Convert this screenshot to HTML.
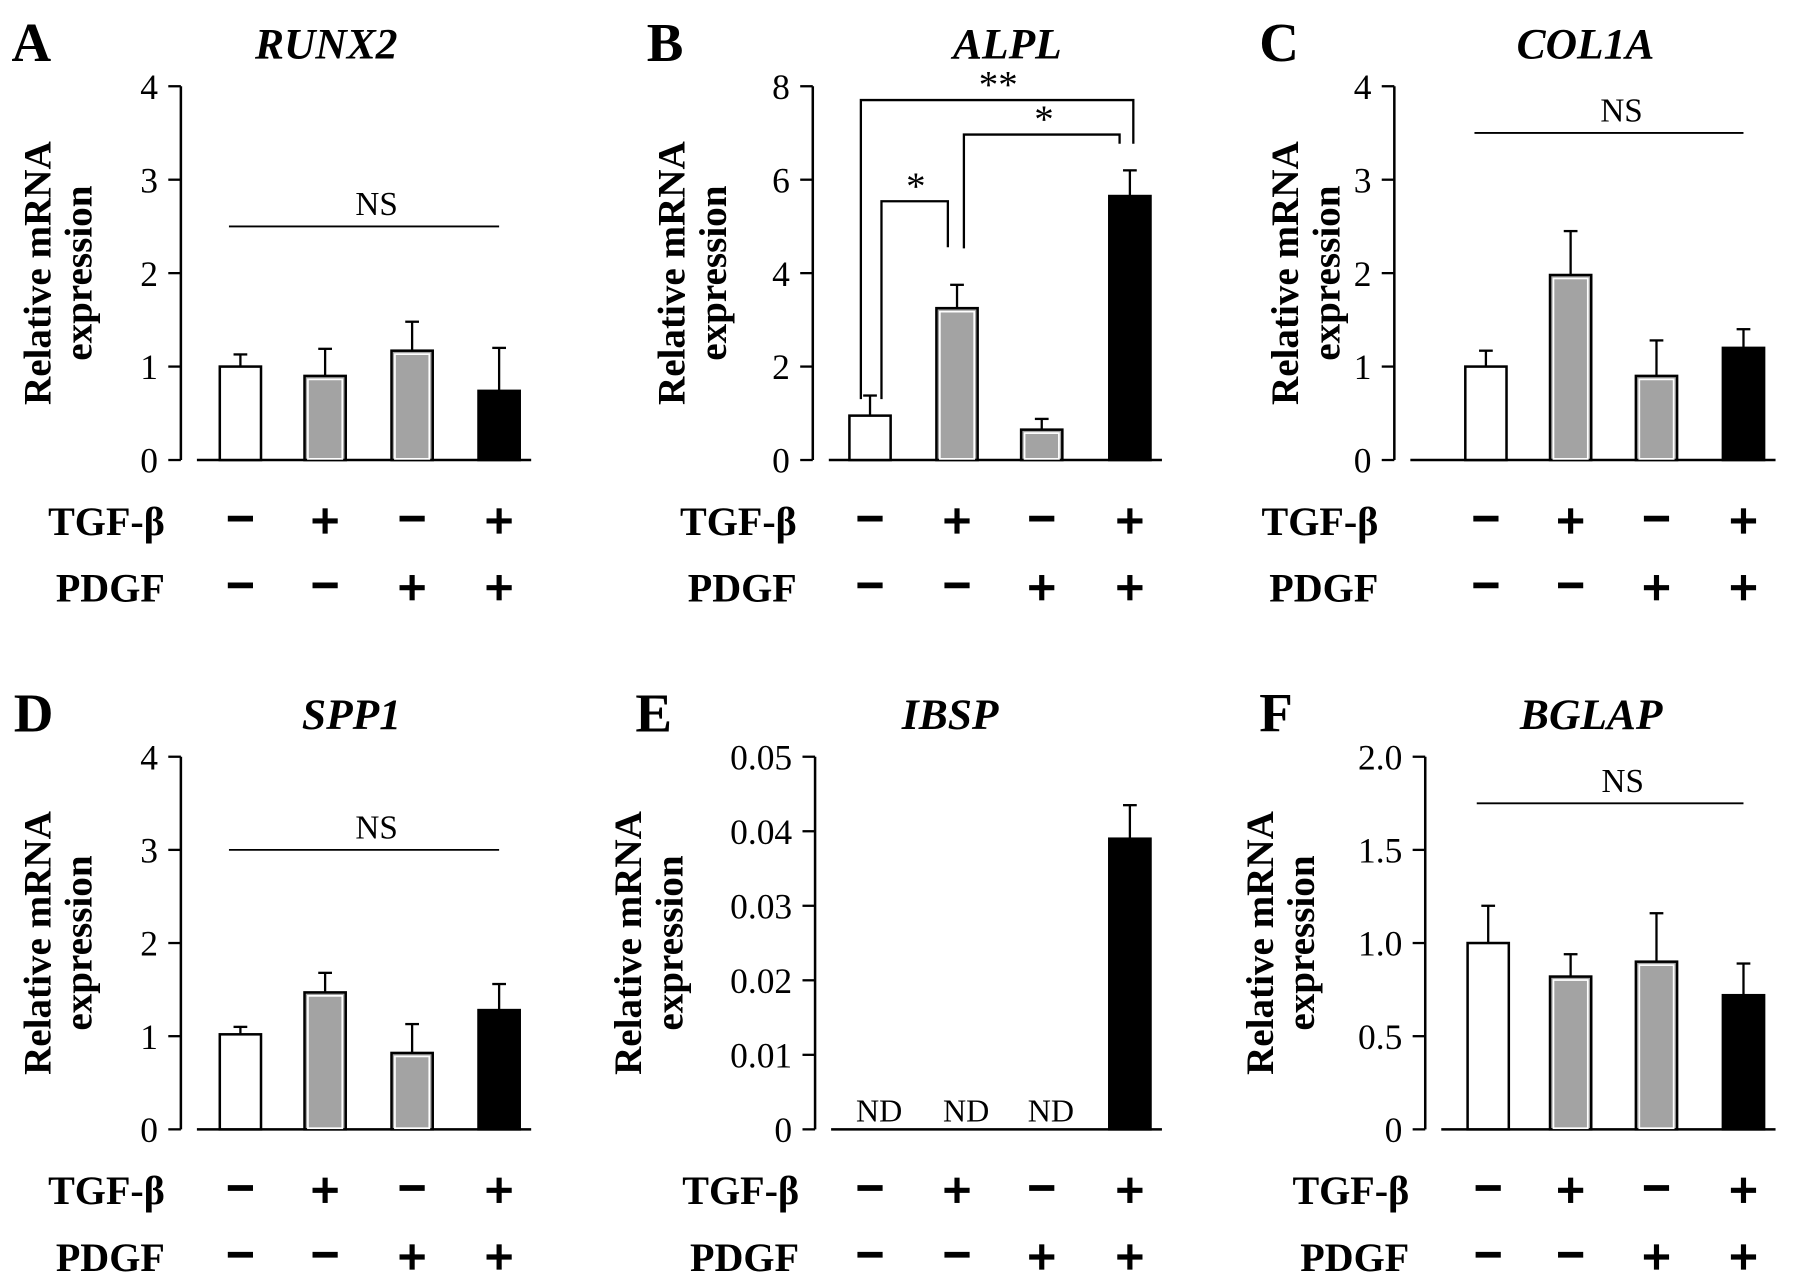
<!DOCTYPE html>
<html><head><meta charset="utf-8"><style>
html,body{margin:0;padding:0;background:#fff;width:1795px;height:1280px;overflow:hidden}
svg{display:block}
text{font-family:"Liberation Serif",serif;fill:#000}
</style></head><body>
<svg id="fig" width="1795" height="1280" viewBox="0 0 1568 1113" preserveAspectRatio="none" xmlns="http://www.w3.org/2000/svg"></svg>
<script>
// ---- data ----
const groups = ["ctrl","tgf","pdgf","tgf-pdgf"];
const tgfSigns = ["−","+","−","+"];
const pdgfSigns = ["−","−","+","+"];
const runx2Values = [1.0, 0.9, 1.17, 0.74];
const runx2Err = [1.13, 1.19, 1.48, 1.2];
const runx2Ticks = ["0","1","2","3","4"];
const alplValues = [0.95, 3.25, 0.65, 5.65];
const alplErr = [1.38, 3.75, 0.88, 6.2];
const alplTicks = ["0","2","4","6","8"];
const col1aValues = [1.0, 1.98, 0.9, 1.2];
const col1aErr = [1.17, 2.45, 1.28, 1.4];
const col1aTicks = ["0","1","2","3","4"];
const spp1Values = [1.02, 1.47, 0.82, 1.28];
const spp1Err = [1.1, 1.68, 1.13, 1.56];
const spp1Ticks = ["0","1","2","3","4"];
const ibspValues = [0, 0, 0, 0.039];
const ibspErr = [0, 0, 0, 0.0435];
const ibspTicks = ["0","0.01","0.02","0.03","0.04","0.05"];
const bglapValues = [1.0, 0.82, 0.9, 0.72];
const bglapErr = [1.2, 0.94, 1.16, 0.89];
const bglapTicks = ["0","0.5","1.0","1.5","2.0"];

const svg = document.getElementById('fig');
const NS = 'http://www.w3.org/2000/svg';
function mk(tag, attrs, parent){const e=document.createElementNS(NS,tag);for(const k in attrs)e.setAttribute(k,attrs[k]);(parent||svg).appendChild(e);return e;}
function txt(s, attrs, parent){const e=mk('text',attrs,parent);e.textContent=s;return e;}

const fills = ["#fff","#a3a3a3","#a3a3a3","#000"];

function panel(p){
  const g = mk('g',{});
  
  
  const max = p.max, y0 = p.y0, yT = p.yTop;
  const y = v => y0 - (v/max)*(y0-yT);
  const x = i => p.cx[i];
  const L = txt(p.letter,{x:p.lx,y:yT-22,'font-size':48,'font-weight':'bold'},g);
  
  
  const T = txt(p.title,{x:p.tx,y:yT-24,'font-size':38,'font-weight':'bold','font-style':'italic','text-anchor':'middle'},g);
  
  
  const yl = mk('text',{transform:`translate(${p.ylx},${(y0+yT)/2}) rotate(-90)`,'font-size':34,'font-weight':'bold','text-anchor':'middle'},g);
  
  
  const t1=mk('tspan',{x:0,dy:-6},yl);t1.textContent='Relative mRNA';
  const t2=mk('tspan',{x:0,dy:36},yl);t2.textContent='expression';
  const ax = mk('line',{x1:p.ax,y1:yT,x2:p.ax,y2:y0,stroke:'#000','stroke-width':2.2},g);
  
  
  const n = p.ticks.length-1;
  p.ticks.forEach((t,i)=>{
    const v = max*i/n, yy=y(v);
    mk('line',{x1:p.ax-11,y1:yy,x2:p.ax,y2:yy,stroke:'#000','stroke-width':2},g);
    const tl = txt(t,{x:p.ax-20,y:yy+11,'font-size':31,'text-anchor':'end'},g);
    
    
  });
  const base = mk('line',{x1:p.ax+14,y1:y0,x2:p.cx[3]+28,y2:y0,stroke:'#000','stroke-width':2.2},g);
  
  
  const bw = 36;
  p.vals.forEach((v,i)=>{
    if(v<=0){
      const nd = txt('ND',{x:x(i)+8,y:y0-7,'font-size':28,'text-anchor':'middle'},g);
      
      
      return;
    }
    const top=y(v);
    const eb = mk('line',{x1:x(i),y1:y(p.err[i]),x2:x(i),y2:top,stroke:'#000','stroke-width':2},g);
    
    
    mk('line',{x1:x(i)-6,y1:y(p.err[i]),x2:x(i)+6,y2:y(p.err[i]),stroke:'#000','stroke-width':2},g);
    const r = mk('rect',{x:x(i)-bw/2,y:top,width:bw,height:y0-top,fill:fills[i],stroke:'#000','stroke-width':2.2},g);
    
    
    if(i==1||i==2) mk('rect',{x:x(i)-bw/2+3,y:top+3,width:bw-6,height:Math.max(0,y0-top-4),fill:'none',stroke:'#fff','stroke-width':1.5},g);
  });
  if(p.ns!=null){
    const ny=y(p.ns);
    const nl = mk('line',{x1:p.cx[0]-10,y1:ny,x2:p.cx[3],y2:ny,stroke:'#000','stroke-width':1.6},g);
    
    
    const nt = txt('NS',{x:(p.cx[0]+p.cx[3])/2+6,y:ny-10,'font-size':29,'text-anchor':'middle'},g);
    
    
  }
  const rows=[['TGF-β',tgfSigns,p.rowY],['PDGF',pdgfSigns,p.rowY+58]];
  rows.forEach(([lab,signs,ry])=>{
    const rl = txt(lab,{x:p.ax-14,y:ry+12,'font-size':35,'font-weight':'bold','text-anchor':'end'},g);
    
    
    signs.forEach((s,i)=>{
      const cx=x(i);
      if(s=='+'){
        mk('line',{x1:cx-11,y1:ry,x2:cx+11,y2:ry,stroke:'#000','stroke-width':4.5},g);
        mk('line',{x1:cx,y1:ry-11,x2:cx,y2:ry+11,stroke:'#000','stroke-width':4.5},g);
      } else {
        mk('line',{x1:cx-11,y1:ry-2,x2:cx+11,y2:ry-2,stroke:'#000','stroke-width':5},g);
      }
    });
  });
  return {g,y,x};
}

panel({letter:'A',lx:10,tx:285,ylx:50,title:'RUNX2',ax:158,yTop:75,y0:400,max:4,ticks:runx2Ticks,vals:runx2Values,err:runx2Err,cx:[210,284,360,436],ns:2.5,rowY:453});
panel({letter:'B',lx:565,tx:880,ylx:604,title:'ALPL',ax:710,yTop:75,y0:400,max:8,ticks:alplTicks,vals:alplValues,err:alplErr,cx:[760,836,910,987],ns:null,rowY:453});
panel({letter:'C',lx:1100,tx:1385,ylx:1140,title:'COL1A',ax:1218,yTop:75,y0:400,max:4,ticks:col1aTicks,vals:col1aValues,err:col1aErr,cx:[1298,1372,1447,1523],ns:3.5,rowY:453});
panel({letter:'D',lx:12,tx:307,ylx:50,title:'SPP1',ax:158,yTop:658,y0:982,max:4,ticks:spp1Ticks,vals:spp1Values,err:spp1Err,cx:[210,284,360,436],ns:3,rowY:1035});
panel({letter:'E',lx:555,tx:830,ylx:566,title:'IBSP',ax:712,yTop:658,y0:982,max:0.05,ticks:ibspTicks,vals:ibspValues,err:ibspErr,cx:[760,836,910,987],ns:null,rowY:1035});
panel({letter:'F',lx:1100,tx:1390,ylx:1118,title:'BGLAP',ax:1245,yTop:658,y0:982,max:2,ticks:bglapTicks,vals:bglapValues,err:bglapErr,cx:[1300,1372,1447,1523],ns:1.75,rowY:1035});

function bracket(x1,yl,x2,yr,yt,label,lx){
  const p = mk('polyline',{points:`${x1},${yl} ${x1},${yt} ${x2},${yt} ${x2},${yr}`,fill:'none',stroke:'#000','stroke-width':2});
  
  
  const t = txt(label,{x:lx,y:yt-2,'font-size':34,'text-anchor':'middle'});
  
  
}
bracket(752,347,990,125,87,'**',872);
bracket(770,347,828,215,175,'*',800);
bracket(842,216,978,125,117,'*',912);
</script>
</body></html>
